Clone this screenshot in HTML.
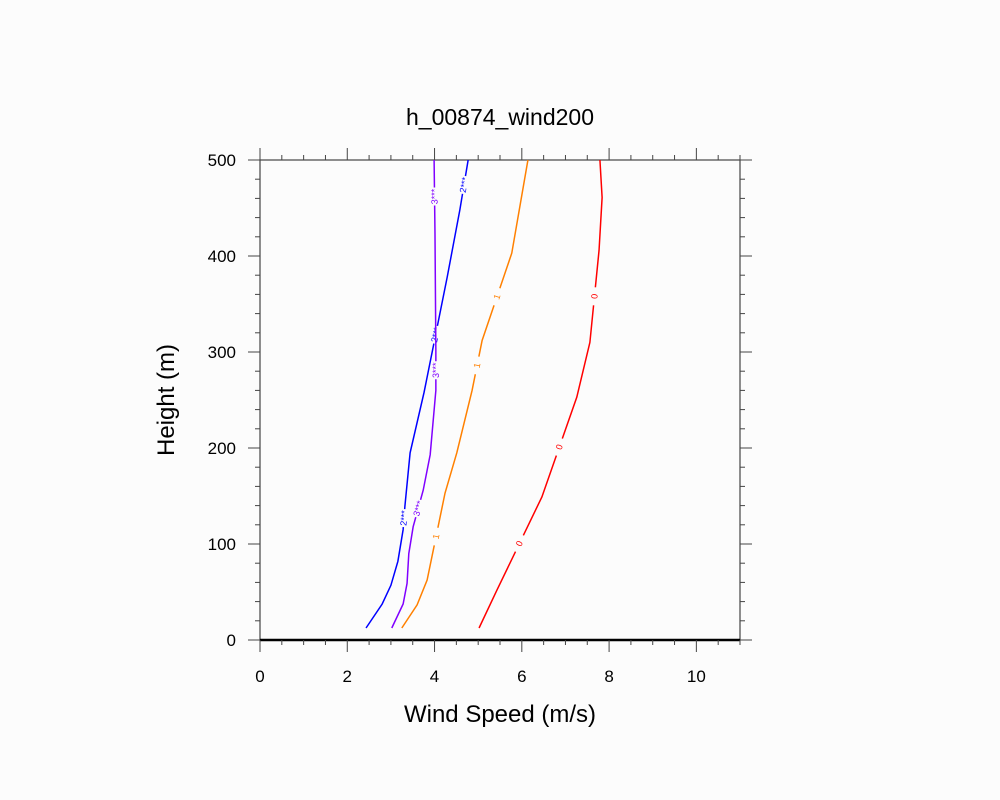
<!DOCTYPE html>
<html><head><meta charset="utf-8"><style>
html,body{margin:0;padding:0;background:#fcfcfc;}
svg{display:block;font-family:"Liberation Sans",sans-serif;}
</style></head><body>
<svg id="chart" width="1000" height="800" xmlns="http://www.w3.org/2000/svg">
<rect width="1000" height="800" fill="#fcfcfc"/>
<text x="500" y="125" text-anchor="middle" font-size="23" fill="#000">h_00874_wind200</text>
<g id="axes"></g>
<g id="series"></g>
<text x="500" y="722" text-anchor="middle" font-size="24">Wind Speed (m/s)</text>
<text transform="translate(174,400) rotate(-90)" text-anchor="middle" font-size="24">Height (m)</text>
</svg>
<script>
const xTicks = [0,2,4,6,8,10];
const yTicks = [0,100,200,300,400,500];
const blueSpeed = [2.43,2.80,3.00,3.16,3.28,3.32,3.44,3.76,4.29,4.58,4.77];
const blueHeight = [12.5,37.5,57,82,115,139,195,258,378,448,500];
const purpleSpeed = [3.02,3.28,3.37,3.41,3.51,3.74,3.90,4.03,4.03,4.01,3.99];
const purpleHeight = [12.5,37.5,59,90,118,156,193,260,302,424,500];
const orangeSpeed = [3.25,3.60,3.83,4.24,4.51,4.86,5.09,5.77,6.14];
const orangeHeight = [12.5,36.5,62.5,153,195,260,312,403,500];
const redSpeed = [5.02,5.43,6.46,7.26,7.56,7.77,7.84,7.79];
const redHeight = [12.5,52,149,253,310,406,461,500];

const X0=260,X1=740,Y0=640,Y1=160,XMAX=11,YMAX=500;
const sx=v=>X0+(v/XMAX)*(X1-X0);
const sy=v=>Y0-(v/YMAX)*(Y0-Y1);
const NS="http://www.w3.org/2000/svg";
const axes=document.getElementById('axes');
const series=document.getElementById('series');
function mk(tag,attrs,parent){const e=document.createElementNS(NS,tag);for(const k in attrs)e.setAttribute(k,attrs[k]);parent.appendChild(e);return e;}

const frame=mk('rect',{x:X0,y:Y1,width:X1-X0,height:Y0-Y1,fill:'none',stroke:'#444','stroke-width':1.2},axes);


const zl=mk('line',{x1:X0,x2:X1,y1:Y0,y2:Y0,stroke:'#000','stroke-width':2.5},axes);



for(let v=0;v<=XMAX+1e-9;v+=0.5){
  const x=sx(v);const major=Math.abs(v/2-Math.round(v/2))<1e-9;const L=major?12:5;
  mk('line',{x1:x,x2:x,y1:Y0,y2:Y0+L,stroke:'#444','stroke-width':1},axes);
  mk('line',{x1:x,x2:x,y1:Y1,y2:Y1-L,stroke:'#444','stroke-width':1},axes);
}
for(let v=0;v<=YMAX;v+=20){
  const y=sy(v);const major=v%100===0;const L=major?12:5;
  mk('line',{x1:X0,x2:X0-L,y1:y,y2:y,stroke:'#444','stroke-width':1},axes);
  mk('line',{x1:X1,x2:X1+L,y1:y,y2:y,stroke:'#444','stroke-width':1},axes);
}
xTicks.forEach(v=>{
  const t=mk('text',{x:sx(v),y:682,'text-anchor':'middle','font-size':17},axes);
  t.textContent=v;
  
  
});
yTicks.forEach(v=>{
  const t=mk('text',{x:236,y:sy(v)+6,'text-anchor':'end','font-size':17},axes);
  t.textContent=v;
  
  
});

function drawLine(xs,ys,color,name,label,labelIdx){
  const pts=xs.map((v,i)=>sx(v)+','+sy(ys[i])).join(' ');
  const p=mk('polyline',{points:pts,fill:'none',stroke:color,'stroke-width':1.5},series);
  
  
  labelIdx.forEach(i=>{
    const xa=sx(xs[i]),ya=sy(ys[i]),xb=sx(xs[i+1]),yb=sy(ys[i+1]);
    const mx=(xa+xb)/2,my=(ya+yb)/2;
    const ang=Math.atan2(yb-ya,xb-xa)*180/Math.PI;
    mk('rect',{x:mx-2,y:my-9,width:4,height:18,fill:'#fcfcfc',transform:`rotate(${ang+90},${mx},${my})`},series);
    const t=mk('text',{x:mx,y:my+3,'text-anchor':'middle','font-size':9,fill:color,transform:`rotate(${ang},${mx},${my})`},series);
    t.textContent=label;
    
    
  });
}
drawLine(blueSpeed,blueHeight,'#0000ff','line-blue','2***',[4,7,9]);
drawLine(purpleSpeed,purpleHeight,'#8000ff','line-purple','3***',[4,7,9]);
drawLine(orangeSpeed,orangeHeight,'#ff8000','line-orange','1',[2,5,6]);
drawLine(redSpeed,redHeight,'#ff0000','line-red','0',[1,2,4]);
</script>
</body></html>
